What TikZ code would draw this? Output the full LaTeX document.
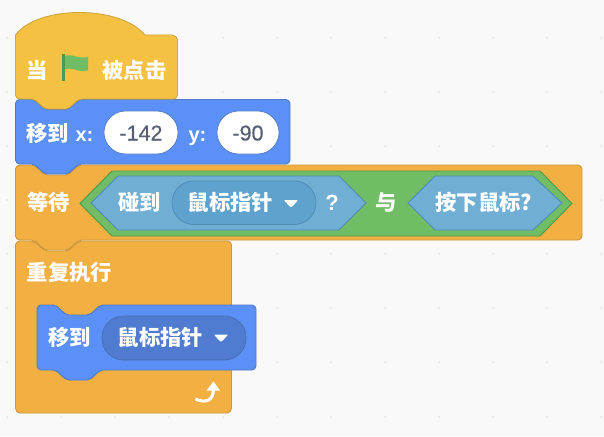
\documentclass[tikz,border=0pt]{standalone}
\usepackage{fontspec}
\setmainfont{Liberation Sans}
\newfontfamily\cjk{Noto Sans CJK SC}
\newfontfamily\numf[FakeBold=0.5]{Liberation Sans}
\definecolor{bgc}{HTML}{F9F9F9}
\definecolor{dotc}{HTML}{E9E9E9}
\definecolor{hatc}{HTML}{F4C142}
\definecolor{hatd}{HTML}{D1A63E}
\definecolor{motc}{HTML}{5B91F6}
\definecolor{motd}{HTML}{4F79C4}
\definecolor{ctlc}{HTML}{F2AF42}
\definecolor{ctld}{HTML}{CB963C}
\definecolor{opc}{HTML}{71BD65}
\definecolor{opd}{HTML}{4E9A4A}
\definecolor{senc}{HTML}{70AED4}
\definecolor{send}{HTML}{4F8BB5}
\definecolor{senp}{HTML}{5FA2CE}
\definecolor{motp}{HTML}{4F7CD0}
\definecolor{numc}{HTML}{575E75}
\newcommand\topnotch[2]{-- ({#1+16},#2) .. controls ({#1+22},#2) and ({#1+26},{#2+10}) .. ({#1+32},{#2+10}) -- ({#1+50},{#2+10}) .. controls ({#1+56},{#2+10}) and ({#1+60},#2) .. ({#1+66},#2)}
\newcommand\botbump[2]{-- ({#1+66},#2) .. controls ({#1+60},#2) and ({#1+56},{#2+10}) .. ({#1+50},{#2+10}) -- ({#1+32},{#2+10}) .. controls ({#1+26},{#2+10}) and ({#1+22},#2) .. ({#1+16},#2)}
% left, top, right, bottom
\newcommand\stackblock[5]{\draw[#5] (#1,{#2+4}) .. controls (#1,{#2+2}) and ({#1+2},#2) .. ({#1+4},#2) \topnotch{#1}{#2} -- ({#3-4},#2) .. controls ({#3-2},#2) and (#3,{#2+2}) .. (#3,{#2+4}) -- (#3,{#4-4}) .. controls (#3,{#4-2}) and ({#3-2},#4) .. ({#3-4},#4) \botbump{#1}{#4} -- ({#1+4},#4) .. controls ({#1+2},#4) and (#1,{#4-2}) .. (#1,{#4-4}) -- cycle;}
% tip-left, slant-left, slant-right, tip-right, top, bottom
\newcommand\hexblock[7]{\draw[#7] (#1,{(#5+#6)/2}) -- (#2,#5) -- (#3,#5) -- (#4,{(#5+#6)/2}) -- (#3,#6) -- (#2,#6) -- cycle;}
% left, top, right, bottom
\newcommand\pillshape[5]{\draw[#5,rounded corners=21.5pt] (#1,#2) rectangle (#3,#4);}
\tikzset{
  x=1pt,y=-1pt,
  lab/.style={text=white,inner sep=0pt,anchor=base,font=\cjk\bfseries\fontsize{21.3}{21.3}\selectfont},
  lat/.style={text=white,inner sep=0pt,anchor=base,font=\bfseries\fontsize{20}{20}\selectfont},
  bigq/.style={text=white,inner sep=0pt,anchor=base,font=\bfseries\fontsize{22}{22}\selectfont},
  num/.style={text=numc,inner sep=0pt,anchor=base,font=\numf\fontsize{21.5}{21.5}\selectfont},
  hatblock/.style={fill=hatc,draw=hatd,line width=0.9pt},
  motblock/.style={fill=motc,draw=motd,line width=0.9pt},
  ctlblock/.style={fill=ctlc,draw=ctld,line width=0.9pt},
  opblock/.style={fill=opc,draw=opd,line width=0.9pt},
  senblock/.style={fill=senc,draw=send,line width=0.9pt},
  field/.style={fill=white,draw=motd,line width=0.7pt},
  senfield/.style={fill=senp,draw=send,line width=0.7pt},
  motfield/.style={fill=motp,draw=motd!90!black,line width=0.7pt},
  caret/.style={fill=white,draw=white,line width=1pt,line join=round},
}
\begin{document}
\begin{tikzpicture}
\useasboundingbox (0,0) rectangle (604,436);
\fill[bgc] (0,0) rectangle (604,436);
\foreach \gy in {38,92,146,200,254,308,362,417}{
  \foreach \gx in {7,61,115,169,223,277,331,385,439,493,547,601}{
    \fill[dotc] (\gx,\gy) circle (1.5);
  }
}
% repeat block (drawn first so the stack covers it)
\draw[ctlblock] (15.5,245) .. controls (15.5,243) and (17.5,241) .. (19.5,241) \topnotch{15.5}{241} -- (227.5,241) .. controls (229.5,241) and (231.5,243) .. (231.5,245) -- (231.5,408) .. controls (231.5,410.5) and (229.5,413) .. (227.5,413) -- (19.5,413) .. controls (17.5,413) and (15.5,410.5) .. (15.5,408) -- cycle;
% wait block
\stackblock{15.5}{165}{582}{240}{ctlblock}
% the wait bump over the repeat notch
\fill[ctlc] (34,239) .. controls (39,240.5) and (42,249.3) .. (47.5,249.3) -- (65.5,249.3) .. controls (71,249.3) and (74,240.5) .. (79,239) -- cycle;
% move block
\stackblock{15.5}{99.5}{290}{164}{motblock}
% hat block
\draw[hatblock] (15.5,35) .. controls (38,5) and (120,5) .. (145,35) -- (172,35) .. controls (175,35) and (177.5,37.5) .. (177.5,40) -- (177.5,95) .. controls (177.5,97) and (175.5,99) .. (173.5,99) \botbump{15.5}{99} -- (19.5,99) .. controls (17.5,99) and (15.5,97) .. (15.5,95) -- cycle;
% inner move block
\stackblock{37}{305}{256}{370}{motblock}
% texts: hat
\node[lab] (whenT) at (37.5,78.5) {当};
\fill[opd] (62.3,54) rectangle (65,81);
\fill[opc] (65,56) .. controls (72,53) and (79,60) .. (88,56.5) -- (88,70) .. controls (80,74) and (72,66) .. (65,69.5) -- cycle;
\node[lab] (clickT) at (134.5,78.5) {被点击};
% texts: move
\node[lab] (moveT) at (47.5,141.5) {移到};
\node[lat] (xT) at (84.5,141) {x:};
\pillshape{104}{111}{178}{154}{field}
\node[num] (xV) at (141,140.5) {-142};
\node[lat] (yT) at (197.5,141) {y:};
\pillshape{217}{111}{279}{154}{field}
\node[num] (yV) at (248,140.5) {-90};
% texts: wait
\node[lab] (waitT) at (48.5,210.5) {等待};
\hexblock{80}{112}{540}{572}{171}{236}{opblock}
\hexblock{91}{118}{339}{366}{176}{230}{senblock}
\node[lab] (touchT) at (139.5,210.5) {碰到};
\pillshape{172}{181}{316}{224.5}{senfield}
\node[lab] (ptrA) at (230.5,210.5) {鼠标指针};
\draw[caret] (285,200.5) -- (297,200.5) -- (293,205) .. controls (291.5,207) and (290.5,207) .. (289,205) -- cycle;
\node[bigq] (qT) at (332,210.5) {?};
\node[lab] (andT) at (386,210.5) {与};
\hexblock{408}{435}{533}{562}{176}{230}{senblock}
\node[lab] (mouseT) at (484,210.5) {按下鼠标?};
% texts: repeat
\node[lab] (repT) at (69.5,280.5) {重复执行};
% inner move texts
\node[lab] (moveB) at (69.5,345.5) {移到};
\pillshape{102}{316}{246}{360}{motfield}
\node[lab] (ptrB) at (160.5,345.5) {鼠标指针};
\draw[caret] (215,335) -- (227,335) -- (223,339.5) .. controls (221.5,341.5) and (220.5,341.5) .. (219,339.5) -- cycle;
% loop arrow
\draw[white,line width=3pt] (195.5,399) .. controls (205,403.5) and (213.5,401) .. (213.5,389);
\fill[white] (213.5,381.5) -- (220,390.5) -- (206.5,390.5) -- cycle;
\end{tikzpicture}
\end{document}
